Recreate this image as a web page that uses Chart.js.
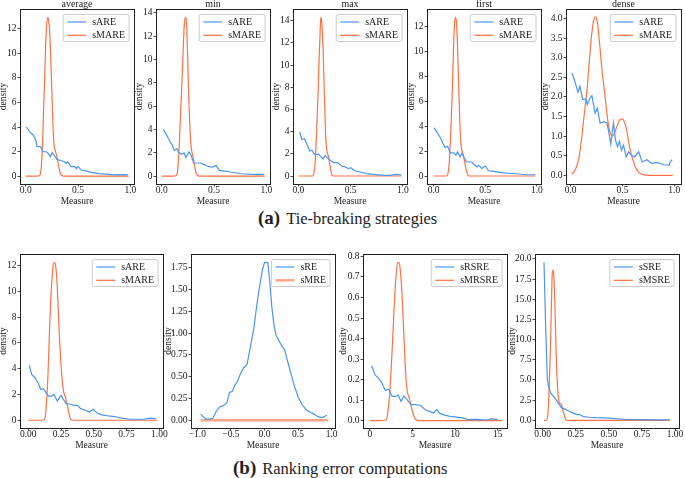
<!DOCTYPE html>
<html>
<head>
  <title>Density of ranking error measures</title>
  <script src="https://cdn.jsdelivr.net/npm/chart.js"></script>
  <style>
    body { margin: 0; width: 685px; height: 478px; position: relative; overflow: hidden; background: #fff;
           font-family: "Liberation Serif", "DejaVu Serif", serif; color: #222; }
    .panel { position: absolute; }
    .caption { position: absolute; white-space: nowrap; line-height: 20px; font-size: 16.5px; }
    .caption b { font-size: 19px; margin-right: 6px; }
  </style>
</head>
<body>
  <div class="caption" style="left:258px; top:208px"><b>(a)</b>Tie-breaking strategies</div>
  <div class="caption" style="left:233px; top:458px"><b>(b)</b>Ranking error computations</div>
  <script>
    // ---- tick labels ----
    const tieXTicks = [0, 0.5, 1];
    const yTicks12 = [0, 2, 4, 6, 8, 10, 12];
    const yTicks14 = [0, 2, 4, 6, 8, 10, 12, 14];
    const denseYTicks = [0, 0.5, 1, 1.5, 2, 2.5, 3, 3.5, 4];
    const quarterXTicks = [0, 0.25, 0.5, 0.75, 1];
    const reYTicks = [0, 0.25, 0.5, 0.75, 1, 1.25, 1.5, 1.75];
    const reXTicks = [-1, -0.5, 0, 0.5, 1];
    const rsreYTicks = [0, 0.1, 0.2, 0.3, 0.4, 0.5, 0.6, 0.7, 0.8];
    const rsreXTicks = [0, 5, 10, 15];
    const sreYTicks = [0, 2.5, 5, 7.5, 10, 12.5, 15, 17.5, 20];

    // ---- (a) average ----
    const avgX = [0.006, 0.038, 0.07, 0.095, 0.108, 0.14, 0.165, 0.197, 0.22, 0.235, 0.254, 0.276, 0.298, 0.34, 0.37, 0.387, 0.40, 0.435, 0.47, 0.483, 0.50, 0.53, 0.58, 0.625, 0.70, 0.77, 0.83, 0.93, 0.975];
    const avgARE = [4.0, 3.6, 3.35, 2.94, 2.4, 2.4, 1.98, 1.98, 1.8, 1.58, 1.9, 1.65, 1.36, 1.25, 1.17, 1.03, 1.17, 0.76, 0.76, 0.6, 0.78, 0.49, 0.4, 0.3, 0.2, 0.15, 0.1, 0.12, 0.1];
    const avgMX = [0, 0.05, 0.1, 0.13, 0.14, 0.15, 0.16, 0.17, 0.18, 0.19, 0.2, 0.21, 0.22, 0.23, 0.24, 0.25, 0.26, 0.27, 0.28, 0.29, 0.3, 0.31, 0.32, 0.33, 0.34, 0.36, 0.5, 0.7, 0.9, 0.985];
    const avgMARE = [0, 0, 0, 0.02, 0.2, 0.9, 2.5, 5.2, 7.8, 10.6, 12.3, 12.95, 12.6, 11.6, 9.3, 6.8, 4.2, 2.6, 2.1, 1.85, 1.5, 1.0, 0.6, 0.25, 0.05, 0, 0, 0, 0, 0];

    // ---- (a) min ----
    const minX = [0.016, 0.048, 0.08, 0.097, 0.12, 0.145, 0.16, 0.19, 0.215, 0.23, 0.26, 0.28, 0.305, 0.37, 0.40, 0.43, 0.48, 0.52, 0.55, 0.60, 0.66, 0.76, 0.86, 0.98];
    const minARE = [3.98, 3.5, 2.92, 2.72, 2.2, 2.35, 2.06, 1.86, 1.98, 1.58, 2.06, 1.78, 1.12, 1.12, 1.0, 0.86, 0.77, 0.9, 0.49, 0.43, 0.35, 0.2, 0.14, 0.14];
    const minMX = [0, 0.1, 0.14, 0.15, 0.16, 0.17, 0.18, 0.19, 0.2, 0.21, 0.22, 0.23, 0.24, 0.25, 0.26, 0.27, 0.28, 0.29, 0.3, 0.31, 0.32, 0.33, 0.34, 0.36, 0.6, 0.985];
    const minMARE = [0, 0, 0.05, 0.4, 1.4, 3.2, 5.3, 7.5, 9.6, 12.0, 13.4, 13.6, 12.5, 9.4, 6.2, 4.0, 2.6, 2.0, 1.6, 1.1, 0.6, 0.25, 0.05, 0, 0, 0];

    // ---- (a) max ----
    const maxX = [0.012, 0.034, 0.057, 0.083, 0.108, 0.13, 0.156, 0.195, 0.217, 0.236, 0.258, 0.28, 0.306, 0.337, 0.37, 0.388, 0.417, 0.45, 0.48, 0.503, 0.545, 0.59, 0.655, 0.72, 0.815, 0.88, 0.93, 0.985];
    const maxARE = [3.98, 3.29, 3.37, 2.86, 2.26, 2.32, 1.96, 1.96, 1.72, 1.54, 1.86, 1.62, 1.42, 1.21, 1.21, 1.12, 0.88, 0.82, 0.66, 0.75, 0.45, 0.36, 0.21, 0.15, 0.06, 0.06, 0.15, 0.1];
    const maxMX = [0, 0.1, 0.14, 0.15, 0.16, 0.17, 0.18, 0.19, 0.2, 0.21, 0.215, 0.22, 0.23, 0.24, 0.25, 0.26, 0.27, 0.28, 0.29, 0.3, 0.31, 0.32, 0.34, 0.6, 0.985];
    const maxMARE = [0, 0, 0.02, 0.3, 1.1, 2.9, 5.2, 7.9, 10.9, 13.3, 14.3, 14.2, 13.0, 10.6, 7.0, 4.0, 2.5, 2.0, 1.7, 1.1, 0.6, 0.1, 0, 0, 0];

    // ---- (a) first ----
    const firstX = [0.005, 0.03, 0.064, 0.09, 0.113, 0.136, 0.16, 0.193, 0.216, 0.232, 0.258, 0.274, 0.30, 0.32, 0.37, 0.39, 0.42, 0.436, 0.468, 0.50, 0.533, 0.58, 0.645, 0.71, 0.80, 0.90, 0.985];
    const firstARE = [3.85, 3.53, 3.08, 2.6, 2.27, 2.39, 1.85, 1.85, 1.66, 1.93, 1.53, 1.85, 1.4, 1.12, 1.12, 0.94, 0.73, 0.86, 0.6, 0.8, 0.42, 0.37, 0.29, 0.23, 0.18, 0.1, 0.1];
    const firstMX = [0, 0.1, 0.13, 0.14, 0.15, 0.16, 0.17, 0.18, 0.19, 0.2, 0.21, 0.22, 0.23, 0.24, 0.25, 0.26, 0.27, 0.28, 0.29, 0.3, 0.31, 0.32, 0.33, 0.35, 0.6, 0.985];
    const firstMARE = [0, 0, 0.02, 0.25, 0.9, 2.3, 4.3, 6.6, 9.5, 11.8, 12.7, 12.4, 10.8, 8.0, 5.3, 3.1, 2.2, 1.9, 1.55, 1.15, 0.7, 0.35, 0.1, 0, 0, 0];

    // ---- (a) dense ----
    const denseX = [0.013, 0.04, 0.07, 0.09, 0.116, 0.148, 0.16, 0.186, 0.205, 0.236, 0.258, 0.284, 0.316, 0.35, 0.368, 0.387, 0.413, 0.433, 0.452, 0.47, 0.49, 0.51, 0.536, 0.559, 0.59, 0.617, 0.656, 0.69, 0.735, 0.784, 0.83, 0.9, 0.95, 0.96, 0.98];
    const denseARE = [2.61, 2.4, 2.12, 2.27, 1.93, 1.95, 1.8, 1.97, 2.03, 1.59, 1.71, 1.33, 1.37, 1.34, 1.1, 0.8, 1.34, 0.9, 0.73, 0.86, 0.64, 0.77, 0.47, 0.6, 0.51, 0.47, 0.6, 0.34, 0.4, 0.3, 0.33, 0.27, 0.26, 0.34, 0.4];
    const denseMX = [0.01, 0.04, 0.07, 0.1, 0.12, 0.14, 0.16, 0.18, 0.2, 0.22, 0.24, 0.26, 0.28, 0.3, 0.33, 0.36, 0.38, 0.4, 0.42, 0.44, 0.47, 0.5, 0.52, 0.54, 0.57, 0.6, 0.63, 0.66, 0.7, 0.75, 0.85, 0.985];
    const denseMARE = [0.03, 0.12, 0.34, 0.8, 1.29, 1.75, 2.24, 2.9, 3.52, 3.92, 4.04, 3.85, 3.34, 2.75, 2.06, 1.37, 1.1, 1.0, 1.06, 1.2, 1.4, 1.44, 1.35, 1.16, 0.7, 0.4, 0.18, 0.07, 0.02, 0, 0, 0];

    // ---- (b) sARE / sMARE ----
    const areX = [0.008, 0.026, 0.051, 0.077, 0.094, 0.115, 0.133, 0.153, 0.178, 0.196, 0.222, 0.25, 0.268, 0.288, 0.318, 0.349, 0.374, 0.40, 0.433, 0.466, 0.497, 0.527, 0.56, 0.61, 0.66, 0.71, 0.776, 0.827, 0.878, 0.93, 0.975];
    const areARE = [4.25, 3.55, 3.3, 2.86, 2.4, 2.45, 2.19, 1.88, 1.88, 2.0, 1.49, 1.93, 1.62, 1.31, 1.24, 1.16, 1.16, 0.9, 0.8, 0.64, 0.85, 0.54, 0.42, 0.34, 0.29, 0.16, 0.08, 0.08, 0.08, 0.16, 0.13];
    const areMX = [0, 0.1, 0.12, 0.13, 0.14, 0.15, 0.16, 0.17, 0.18, 0.19, 0.2, 0.21, 0.22, 0.23, 0.24, 0.25, 0.26, 0.27, 0.28, 0.29, 0.3, 0.31, 0.32, 0.34, 0.6, 0.985];
    const areMARE = [0, 0, 0.05, 0.3, 1.5, 3.4, 6.3, 9.0, 10.8, 12.0, 12.25, 11.9, 10.6, 8.3, 6.0, 4.3, 3.0, 2.2, 1.9, 1.5, 1.05, 0.55, 0.15, 0, 0, 0];

    // ---- (b) sRE / sMRE ----
    const reX = [-0.95, -0.91, -0.86, -0.81, -0.77, -0.72, -0.67, -0.61, -0.56, -0.52, -0.48, -0.44, -0.40, -0.36, -0.31, -0.26, -0.21, -0.16, -0.11, -0.07, -0.03, 0.0, 0.05, 0.08, 0.11, 0.14, 0.17, 0.21, 0.26, 0.30, 0.35, 0.40, 0.45, 0.50, 0.56, 0.62, 0.68, 0.74, 0.80, 0.85, 0.89, 0.93];
    const reRE = [0.07, 0.04, 0.01, 0.015, 0.02, 0.1, 0.15, 0.17, 0.2, 0.32, 0.33, 0.4, 0.45, 0.53, 0.6, 0.64, 0.84, 1.05, 1.35, 1.55, 1.73, 1.81, 1.81, 1.58, 1.3, 1.1, 0.98, 0.92, 0.85, 0.81, 0.66, 0.52, 0.38, 0.27, 0.18, 0.12, 0.09, 0.07, 0.04, 0.03, 0.04, 0.06];
    const reMX = [-0.95, -0.5, 0, 0.5, 0.95];
    const reMRE = [0, 0, 0, 0, 0];

    // ---- (b) sRSRE / sMRSRE ----
    const rsreX = [0.2, 0.6, 1.0, 1.4, 1.8, 2.2, 2.6, 3.0, 3.3, 3.65, 4.0, 4.4, 4.8, 5.3, 5.9, 6.5, 7.0, 7.45, 7.85, 8.2, 8.8, 9.4, 10.0, 10.9, 11.5, 12.5, 13.7, 14.2, 15.0];
    const rsreRSRE = [0.267, 0.223, 0.207, 0.183, 0.147, 0.153, 0.118, 0.118, 0.126, 0.094, 0.12, 0.1, 0.078, 0.078, 0.075, 0.053, 0.045, 0.037, 0.053, 0.035, 0.027, 0.021, 0.018, 0.013, 0.005, 0.006, 0.003, 0.008, 0.006];
    const rsreMX = [0.0, 1.0, 1.9, 2.1, 2.35, 2.5, 2.66, 2.8, 2.94, 3.1, 3.25, 3.4, 3.52, 3.7, 3.84, 4.0, 4.1, 4.3, 4.45, 4.62, 4.9, 5.1, 5.3, 5.7, 8.0, 12.0, 15.5];
    const rsreMRSRE = [0, 0, 0.003, 0.04, 0.15, 0.26, 0.39, 0.52, 0.63, 0.72, 0.77, 0.77, 0.75, 0.66, 0.55, 0.4, 0.3, 0.17, 0.13, 0.11, 0.06, 0.03, 0.01, 0, 0, 0, 0];

    // ---- (b) sSRE / sMSRE ----
    const sreX = [0.01, 0.022, 0.035, 0.045, 0.06, 0.08, 0.1, 0.14, 0.18, 0.22, 0.26, 0.28, 0.31, 0.35, 0.4, 0.47, 0.55, 0.63, 0.75, 0.88, 0.96];
    const sreSRE = [19.55, 12.0, 5.1, 4.2, 3.4, 3.0, 2.6, 1.6, 1.3, 0.95, 0.7, 0.72, 0.45, 0.38, 0.33, 0.3, 0.2, 0.1, 0.08, 0.05, 0.05];
    const sreMX = [0.01, 0.03, 0.04, 0.05, 0.06, 0.067, 0.073, 0.08, 0.087, 0.093, 0.1, 0.105, 0.115, 0.123, 0.13, 0.14, 0.15, 0.16, 0.175, 0.19, 0.3, 0.6, 0.96];
    const sreMSRE = [0, 0.05, 0.9, 4.5, 9.9, 15.0, 18.3, 18.6, 17.0, 14.0, 9.5, 6.6, 3.5, 2.3, 2.1, 2.0, 1.4, 0.8, 0.1, 0, 0, 0, 0];

    const BLUE = '#4b96f3';
    const ORANGE = '#ff7043';
    const TEXT = '#222';
    const FONT = '"Liberation Serif", "DejaVu Serif", serif';
    Chart.defaults.font.family = FONT;
    Chart.defaults.color = TEXT;

    const PAD_R = 10, X_H = 23;

    const panels = [
      {L: 20, T: 9, R: 134, B: 184, yW: 22, title: 'average', names: ['sARE', 'sMARE'],
       a: [avgX, avgARE], b: [avgMX, avgMARE], xr: [-0.055, 1.035], yr: [-0.65, 13.63], xt: tieXTicks, xd: 1, yt: yTicks12, yd: 0},
      {L: 156, T: 9, R: 270, B: 184, yW: 22, title: 'min', names: ['sARE', 'sMARE'],
       a: [minX, minARE], b: [minMX, minMARE], xr: [-0.055, 1.035], yr: [-0.68, 14.32], xt: tieXTicks, xd: 1, yt: yTicks14, yd: 0},
      {L: 293, T: 9, R: 407, B: 184, yW: 22, title: 'max', names: ['sARE', 'sMARE'],
       a: [maxX, maxARE], b: [maxMX, maxMARE], xr: [-0.051, 1.04], yr: [-0.72, 15.06], xt: tieXTicks, xd: 1, yt: yTicks14, yd: 0},
      {L: 427, T: 9, R: 541, B: 184, yW: 21, title: 'first', names: ['sARE', 'sMARE'],
       a: [firstX, firstARE], b: [firstMX, firstMARE], xr: [-0.064, 1.04], yr: [-0.64, 13.37], xt: tieXTicks, xd: 1, yt: yTicks12, yd: 0},
      {L: 566, T: 9, R: 681, B: 184, yW: 26, title: 'dense', names: ['sARE', 'sMARE'],
       a: [denseX, denseARE], b: [denseMX, denseMARE], xr: [-0.045, 1.065], yr: [-0.22, 4.24], xt: tieXTicks, xd: 1, yt: denseYTicks, yd: 1},
      {L: 20, T: 254, R: 163, B: 428, yW: 22, names: ['sARE', 'sMARE'],
       a: [areX, areARE], b: [areMX, areMARE], xr: [-0.063, 1.028], yr: [-0.6, 12.9], xt: quarterXTicks, xd: 2, yt: yTicks12, yd: 0},
      {L: 191, T: 254, R: 335, B: 428, yW: 28, names: ['sRE', 'sMRE'], flatB: true,
       a: [reX, reRE], b: [reMX, reMRE], xr: [-1.094, 1.05], yr: [-0.09, 1.91], xt: reXTicks, xd: 1, yt: reYTicks, yd: 2},
      {L: 363, T: 254, R: 507, B: 428, yW: 25, names: ['sRSRE', 'sMRSRE'],
       a: [rsreX, rsreRSRE], b: [rsreMX, rsreMRSRE], xr: [-0.82, 16.1], yr: [-0.036, 0.812], xt: rsreXTicks, xd: 0, yt: rsreYTicks, yd: 1},
      {L: 535, T: 254, R: 679, B: 428, yW: 28, names: ['sSRE', 'sMSRE'],
       a: [sreX, sreSRE], b: [sreMX, sreMSRE], xr: [-0.058, 1.03], yr: [-0.95, 20.6], xt: quarterXTicks, xd: 2, yt: sreYTicks, yd: 1}
    ];

    const fmt = (v, d) => v.toFixed(d).replace('-', '\u2212');
    const pts = (xs, ys) => xs.map((x, i) => ({x: x, y: ys[i]}));

    // frame, legend inside the axes, and the panel title
    const decor = {
      id: 'decor',
      afterDatasetsDraw(chart, args, opts) {
        const {ctx, chartArea: a} = chart;
        ctx.save();
        ctx.strokeStyle = TEXT;
        ctx.lineWidth = 1;
        const l = Math.round(a.left) + 0.5, t = Math.round(a.top) + 0.5;
        ctx.strokeRect(l, t, Math.round(a.right) - Math.round(a.left), Math.round(a.bottom) - Math.round(a.top));

        const sets = chart.data.datasets;
        ctx.font = '10px ' + FONT;
        const tw = Math.max(...sets.map(d => ctx.measureText(d.label).width));
        const w = 29 + tw + 4, h = 27;
        const x = a.right - 5 - w, y = a.top + 5.5;
        ctx.fillStyle = 'rgba(255,255,255,0.85)';
        ctx.strokeStyle = '#cccccc';
        ctx.beginPath();
        ctx.roundRect(x, y, w, h, 2);
        ctx.fill();
        ctx.stroke();
        sets.forEach((d, i) => {
          const cy = y + 7.5 + i * 13.3;
          ctx.strokeStyle = d.borderColor;
          ctx.lineWidth = d.borderWidth;
          ctx.beginPath();
          ctx.moveTo(x + 4, cy);
          ctx.lineTo(x + 23, cy);
          ctx.stroke();
          ctx.fillStyle = TEXT;
          ctx.textBaseline = 'middle';
          ctx.textAlign = 'left';
          ctx.fillText(d.label, x + 29, cy + 0.5);
        });

        if (opts.title) {
          ctx.fillStyle = TEXT;
          ctx.textAlign = 'center';
          ctx.textBaseline = 'middle';
          ctx.fillText(opts.title, (a.left + a.right) / 2, a.top - 4.5);
        }
        ctx.restore();
      }
    };

    panels.forEach(p => {
      const padT = p.T < 100 ? p.T : 10;
      const w = p.yW + (p.R - p.L) + PAD_R;
      const h = padT + (p.B - p.T) + X_H;
      const box = document.createElement('div');
      box.className = 'panel';
      box.style.left = (p.L - p.yW) + 'px';
      box.style.top = (p.T - padT) + 'px';
      box.style.width = w + 'px';
      box.style.height = h + 'px';
      const cv = document.createElement('canvas');
      cv.width = w;
      cv.height = h;
      box.appendChild(cv);
      document.body.appendChild(box);

      const tickFont = {size: 9.5, lineHeight: 1};
      const titleFont = {size: 9.5, lineHeight: 1.2};
      new Chart(cv, {
        type: 'line',
        data: {
          datasets: [
            {label: p.names[0], data: pts(p.a[0], p.a[1]), borderColor: BLUE, borderWidth: 1.2,
             pointRadius: 0, tension: 0},
            {label: p.names[1], data: pts(p.b[0], p.b[1]), borderColor: p.flatB ? '#ffa485' : ORANGE,
             borderWidth: p.flatB ? 2.5 : 1.2, pointRadius: 0, cubicInterpolationMode: 'monotone'}
          ]
        },
        options: {
          responsive: false,
          animation: false,
          devicePixelRatio: 1,
          layout: {padding: {left: 0, right: PAD_R, top: padT, bottom: 0}},
          plugins: {legend: {display: false}, tooltip: {enabled: false}, decor: {title: p.title}},
          scales: {
            x: {
              type: 'linear', min: p.xr[0], max: p.xr[1], bounds: 'data',
              afterBuildTicks: ax => { ax.ticks = p.xt.map(v => ({value: v})); },
              afterFit: ax => { ax.height = X_H; },
              ticks: {callback: v => fmt(v, p.xd), font: tickFont, padding: -1, maxRotation: 0, autoSkip: false, color: TEXT},
              grid: {drawOnChartArea: false, tickLength: 2.5, tickColor: TEXT, tickWidth: 0.8},
              border: {display: false},
              title: {display: true, text: 'Measure', font: titleFont, padding: 0, color: TEXT}
            },
            y: {
              type: 'linear', min: p.yr[0], max: p.yr[1], bounds: 'data',
              afterBuildTicks: ax => { ax.ticks = p.yt.map(v => ({value: v})); },
              afterFit: ax => { ax.width = p.yW; },
              ticks: {callback: v => fmt(v, p.yd), font: tickFont, padding: 1, autoSkip: false, color: TEXT},
              grid: {drawOnChartArea: false, tickLength: 2.5, tickColor: TEXT, tickWidth: 0.8},
              border: {display: false},
              title: {display: true, text: 'density', font: titleFont, padding: 0, color: TEXT}
            }
          }
        },
        plugins: [decor]
      });
    });
  </script>
</body>
</html>
